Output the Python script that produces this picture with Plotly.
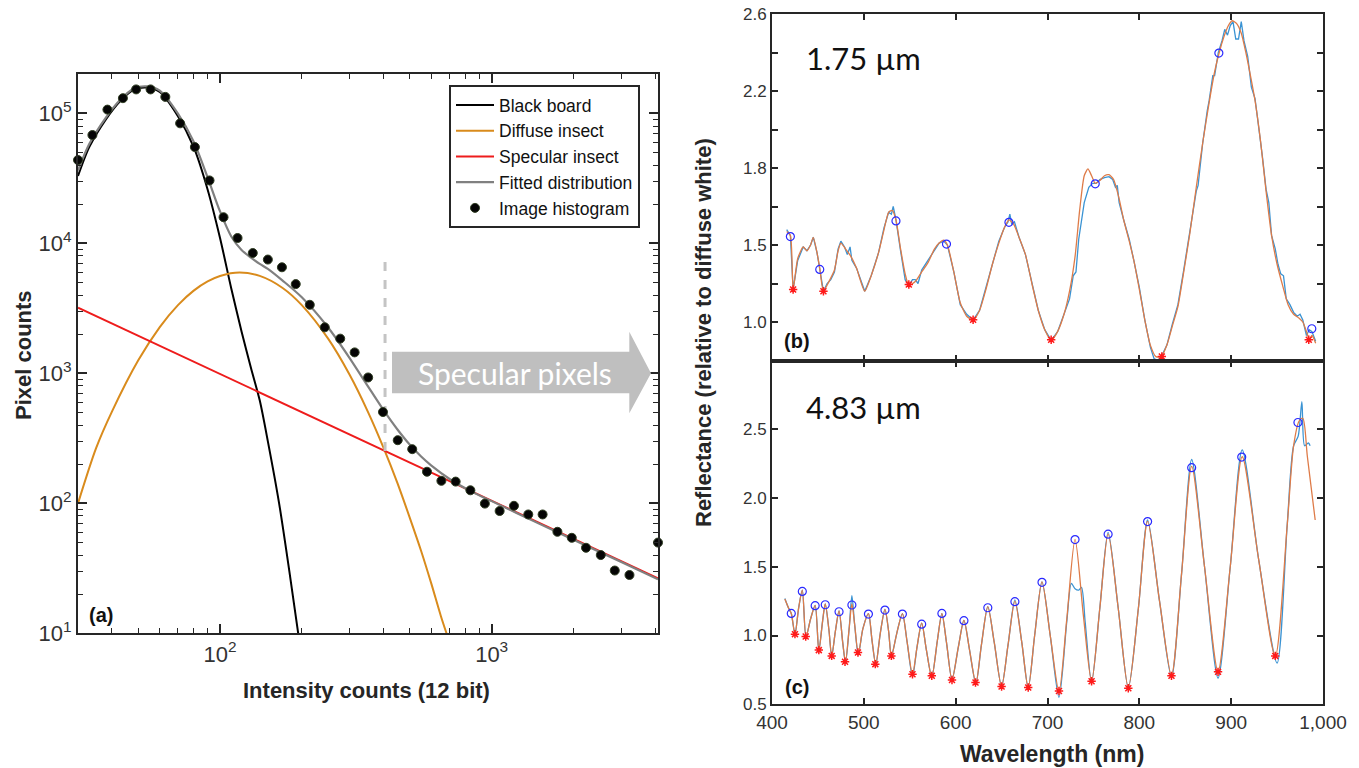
import plotly.graph_objects as go
import math

W, H = 1359, 768
def PX(x): return x / W
def PY(y): return 1 - y / H

# ---------------- Panel (a) data ----------------
hist_x = [30.0, 33.9, 38.5, 43.9, 49.1, 55.5, 62.9, 71.3, 80.8, 91.5, 103, 116, 132, 150, 169, 190, 214,
          243, 277, 313, 351, 398, 451, 510, 578, 653, 737, 835, 944, 1070, 1208, 1364, 1540, 1746,
          1972, 2225, 2522, 2839, 3216, 4096]
hist_y = [43800, 68200, 107000, 131000, 153000, 153000, 134000, 83900, 55100, 30500, 15900, 11000, 8430,
          7510, 6550, 4860, 3370, 2260, 1850, 1450, 930, 504, 306, 261, 175, 149, 147, 126, 99.5, 87.3,
          95.7, 82.1, 82.1, 60.4, 54.3, 45.5, 40.0, 30.4, 28.1, 49.9]

black_x = [30, 33, 38, 43, 48, 54, 60, 70, 80, 90, 100, 110, 120, 130, 140, 150, 165, 180, 194]
black_y = [33000, 55000, 90000, 125000, 152000, 158000, 146000, 95000, 55000, 26000, 11000, 4500, 2100,
           1100, 620, 300, 100, 30, 10]

diffuse_x = [30, 35, 40, 50, 60, 70, 80, 90, 100, 118, 140, 170, 200, 250, 300, 350, 400, 450, 500, 550,
             600, 650, 682]
diffuse_y = [100, 267, 508, 1260, 2270, 3350, 4330, 5100, 5620, 5970, 5620, 4540, 3350, 1850, 975, 508,
             267, 143, 77, 43, 24, 13.6, 10]

specular_x = [30, 4096]
specular_y = [3200, 26.5]

fitted_x = [30, 33, 38, 43, 48, 54, 60, 70, 80, 90, 100, 110, 120, 130, 140, 150, 170, 200, 250, 300, 350,
            400, 450, 500, 550, 600, 700, 850, 1000, 1500, 2000, 3000, 4096]
fitted_y = [36300, 58100, 92900, 127900, 155100, 161500, 149900, 99750, 60560, 32190, 17610, 11300, 8890,
            7765, 6950, 6365, 5170, 3850, 2254, 1312, 798, 521, 370, 282, 229, 195, 154, 122, 104, 69.5,
            52.5, 35.3, 26]

threshold_x = [405, 405]
threshold_y = [7200, 240]

a_xtick_vals = [100, 1000]
a_xtick_text = ["10<sup>2</sup>", "10<sup>3</sup>"]
a_xminor_vals = [40, 50, 60, 70, 80, 90, 200, 300, 400, 500, 600, 700, 800, 900, 2000, 3000, 4000]
a_ytick_vals = [10, 100, 1000, 10000, 100000]
a_ytick_text = ["10<sup>1</sup>", "10<sup>2</sup>", "10<sup>3</sup>", "10<sup>4</sup>", "10<sup>5</sup>"]
a_yminor_vals = [20, 30, 40, 50, 60, 70, 80, 90, 200, 300, 400, 500, 600, 700, 800, 900,
                 2000, 3000, 4000, 5000, 6000, 7000, 8000, 9000, 20000, 30000, 40000, 50000, 60000,
                 70000, 80000, 90000]

# ---------------- Panel (b) data (1.75 um) ----------------
b_fit_wl = [416, 420, 423, 428, 434, 438, 442, 445, 449, 452, 456, 462, 468, 472, 475, 480, 486, 492, 501,
            508, 516, 522, 527, 531, 535, 540, 545, 549, 556, 563, 570, 577, 582, 587, 591, 598, 605, 612,
            619, 626, 633, 640, 647, 653, 658, 663, 669, 676, 683, 690, 697, 704, 711, 718, 724, 730, 735,
            740, 744, 748, 752, 757, 762, 767, 772, 778, 783, 789, 794, 800, 806, 812, 818, 824, 830, 836,
            842, 848, 855, 862, 869, 876, 882, 887, 892, 897, 901, 906, 911, 916, 921, 926, 932, 938, 944,
            950, 956, 962, 968, 974, 978, 982, 985, 988, 992]
b_fit_val = [1.47, 1.45, 1.17, 1.33, 1.39, 1.37, 1.40, 1.44, 1.36, 1.28, 1.16, 1.21, 1.27, 1.37, 1.41, 1.38,
             1.34, 1.28, 1.16, 1.24, 1.36, 1.48, 1.57, 1.58, 1.53, 1.38, 1.25, 1.19, 1.21, 1.26, 1.31, 1.38,
             1.41, 1.425, 1.40, 1.26, 1.10, 1.03, 1.01, 1.06, 1.17, 1.30, 1.41, 1.49, 1.53, 1.51, 1.44,
             1.35, 1.20, 1.06, 0.96, 0.905, 0.95, 1.04, 1.16, 1.34, 1.58, 1.76, 1.795, 1.76, 1.72, 1.735,
             1.76, 1.765, 1.74, 1.64, 1.53, 1.42, 1.32, 1.17, 1.01, 0.88, 0.82, 0.82, 0.88, 0.98, 1.08,
             1.25, 1.46, 1.70, 1.93, 2.14, 2.30, 2.40, 2.48, 2.54, 2.565, 2.55, 2.50, 2.40, 2.28, 2.15,
             1.94, 1.68, 1.45, 1.30, 1.19, 1.09, 1.04, 1.02, 1.00, 0.95, 0.91, 0.93, 0.89]

b_meas_wl = [416, 420, 423, 428, 434, 438, 442, 445, 449, 452, 456, 460, 464, 468, 472, 475, 479, 482, 485,
             487, 492, 501, 508, 516, 522, 527, 530, 532, 535, 540, 545, 549, 553, 556, 559, 563, 570, 577,
             582, 587, 591, 598, 605, 612, 619, 626, 633, 640, 647, 653, 657, 659, 661, 664, 669, 676, 683,
             690, 697, 704, 711, 718, 724, 728, 731, 734, 740, 745, 749, 753, 757, 762, 767, 771, 774, 776,
             778, 783, 789, 794, 800, 806, 812, 816, 820, 824, 830, 836, 842, 848, 855, 862, 864, 869, 874,
             876, 880, 882, 886, 890, 893, 896, 899, 902, 905, 908, 911, 914, 918, 922, 926, 930, 934, 938,
             941, 944, 948, 951, 954, 957, 960, 964, 968, 972, 975, 978, 982, 985, 988, 992]
b_meas_val = [1.48, 1.45, 1.17, 1.32, 1.39, 1.37, 1.40, 1.44, 1.36, 1.28, 1.16, 1.20, 1.22, 1.26, 1.38,
              1.42, 1.39, 1.35, 1.39, 1.32, 1.28, 1.16, 1.24, 1.36, 1.49, 1.57, 1.56, 1.60, 1.53, 1.37,
              1.22, 1.19, 1.22, 1.22, 1.20, 1.27, 1.32, 1.37, 1.41, 1.42, 1.40, 1.26, 1.09, 1.04, 1.01,
              1.06, 1.18, 1.30, 1.42, 1.49, 1.52, 1.56, 1.51, 1.52, 1.44, 1.35, 1.20, 1.06, 0.96, 0.905,
              0.95, 1.04, 1.12, 1.24, 1.26, 1.43, 1.62, 1.70, 1.72, 1.72, 1.74, 1.75, 1.755, 1.74, 1.70,
              1.71, 1.62, 1.53, 1.43, 1.32, 1.18, 1.01, 0.87, 0.81, 0.80, 0.82, 0.88, 0.99, 1.09, 1.26,
              1.46, 1.68, 1.71, 1.93, 2.10, 2.15, 2.28, 2.28, 2.40, 2.46, 2.52, 2.49, 2.54, 2.56, 2.47,
              2.47, 2.56, 2.46, 2.38, 2.22, 2.16, 2.02, 1.86, 1.69, 1.62, 1.45, 1.38, 1.30, 1.25, 1.24,
              1.12, 1.09, 1.05, 1.03, 1.04, 1.01, 0.93, 0.96, 0.95, 0.90]

b_peak_wl = [420, 452, 535, 590, 658, 752, 886.6, 987.8]
b_peak_val = [1.444, 1.273, 1.525, 1.405, 1.518, 1.718, 2.397, 0.965]
b_trough_wl = [423, 456, 549, 619, 704, 824.5, 984.5]
b_trough_val = [1.169, 1.16, 1.195, 1.012, 0.908, 0.821, 0.908]

b_ytick_vals = [1.0, 1.2, 1.4, 1.6, 1.8, 2.0, 2.2, 2.4, 2.6]
b_ytick_text = ["1.0", "", "1.5", "", "1.8", "", "2.2", "", "2.6"]

# ---------------- Panel (c) data (4.83 um) ----------------
c_fit_wl = [414, 418, 421, 425, 429, 433, 437, 442, 447, 451, 455, 458, 462, 465, 469, 473, 477, 480, 484,
            487, 490, 494, 499, 505, 509, 513, 518, 523, 527, 530, 536, 542, 547, 553, 558, 563, 568, 574,
            580, 585, 590, 596, 603, 609, 615, 622, 628, 635, 642, 650, 657, 664.5, 672, 679, 686, 694, 703,
            712.5, 721, 730, 739, 748, 757, 766, 777, 788, 799, 809, 822, 835, 846, 857, 871, 885.7, 899,
            912, 930, 948, 961, 968, 974, 978, 983, 991.5]
c_fit_val = [1.265, 1.20, 1.16, 1.01, 1.20, 1.33, 0.99, 1.12, 1.22, 0.89, 1.10, 1.23, 1.04, 0.85, 1.03, 1.18,
             0.95, 0.81, 1.05, 1.23, 1.08, 0.87, 1.05, 1.16, 0.96, 0.79, 1.02, 1.19, 1.03, 0.85, 1.02, 1.16,
             0.96, 0.72, 0.92, 1.09, 0.90, 0.70, 0.96, 1.16, 0.95, 0.68, 0.92, 1.11, 0.90, 0.655, 0.93, 1.21,
             0.95, 0.63, 0.93, 1.25, 0.95, 0.62, 1.00, 1.39, 1.00, 0.595, 1.12, 1.70, 1.15, 0.67, 1.20, 1.74,
             1.20, 0.62, 1.20, 1.83, 1.25, 0.71, 1.45, 2.23, 1.50, 0.74, 1.50, 2.30, 1.55, 0.85, 1.80, 2.38,
             2.56, 2.58, 2.30, 1.84]

c_meas_wl = [414, 418, 421, 425, 429, 433, 437, 442, 447, 451, 455, 458, 462, 465, 469, 473, 477, 480, 484,
             487, 490, 494, 499, 505, 509, 513, 518, 523, 527, 530, 536, 542, 547, 553, 558, 563, 568, 574,
             580, 585, 590, 596, 603, 609, 615, 622, 628, 635, 642, 650, 657, 664.5, 672, 679, 686, 694, 703,
             712.5, 721, 726, 730, 734, 737, 741, 748, 757, 766, 777, 788, 799, 809, 822, 835, 846, 857, 871,
             885.7, 899, 912, 930, 950, 961, 968, 973, 977, 980, 984, 986]
c_meas_val = [1.27, 1.20, 1.16, 1.01, 1.20, 1.33, 0.99, 1.12, 1.22, 0.89, 1.10, 1.23, 1.04, 0.85, 1.03, 1.18,
              0.95, 0.80, 1.05, 1.29, 1.08, 0.86, 1.05, 1.16, 0.96, 0.79, 1.02, 1.19, 1.03, 0.85, 1.02, 1.16,
              0.96, 0.70, 0.92, 1.09, 0.90, 0.70, 0.96, 1.16, 0.95, 0.68, 0.92, 1.11, 0.90, 0.65, 0.93, 1.21,
              0.95, 0.63, 0.93, 1.26, 0.95, 0.62, 1.00, 1.39, 1.00, 0.55, 1.10, 1.38, 1.34, 1.33, 1.35, 1.10,
              0.66, 1.20, 1.75, 1.20, 0.62, 1.20, 1.84, 1.25, 0.70, 1.45, 2.28, 1.50, 0.69, 1.50, 2.35, 1.55,
              0.80, 1.80, 2.38, 2.45, 2.70, 2.38, 2.40, 2.38]

c_peak_wl = [421, 433, 447, 458, 473, 487, 505, 523, 542, 563, 585, 609, 635, 664.5, 694, 730, 766, 809,
             857, 911.5, 972.7]
c_peak_val = [1.161, 1.321, 1.217, 1.224, 1.173, 1.222, 1.156, 1.185, 1.156, 1.083, 1.161, 1.108, 1.202,
              1.246, 1.387, 1.698, 1.737, 1.829, 2.221, 2.298, 2.549]
c_trough_wl = [425, 436.7, 451, 465, 479.5, 493.6, 512.5, 530, 553, 574, 596, 621.6, 650, 679, 712.5, 748,
               788, 835, 885.7, 948]
c_trough_val = [1.010, 0.993, 0.894, 0.852, 0.809, 0.877, 0.792, 0.852, 0.719, 0.707, 0.677, 0.658, 0.629,
                0.622, 0.597, 0.668, 0.617, 0.707, 0.736, 0.852]

c_ytick_vals = [0.5, 1.0, 1.5, 2.0, 2.5]
c_ytick_text = ["0.5", "1.0", "1.5", "2.0", "2.5"]

# ---------------- styles ----------------
AX = '#262626'
FONT = 'Liberation Sans, Arial, sans-serif'
BLUE = '#3a93d3'
ORANGE = '#de7b48'

fig = go.Figure()

# Panel (a)
fig.add_trace(go.Scatter(x=black_x, y=black_y, mode='lines', name='Black board',
                         line=dict(color='#000000', width=2, shape='spline', smoothing=0.8),
                         xaxis='x', yaxis='y'))
fig.add_trace(go.Scatter(x=diffuse_x, y=diffuse_y, mode='lines', name='Diffuse insect',
                         line=dict(color='#d98b1c', width=2, shape='spline', smoothing=0.8),
                         xaxis='x', yaxis='y'))
fig.add_trace(go.Scatter(x=specular_x, y=specular_y, mode='lines', name='Specular insect',
                         line=dict(color='#ee1c1c', width=2),
                         xaxis='x', yaxis='y'))
fig.add_trace(go.Scatter(x=threshold_x, y=threshold_y, mode='lines', showlegend=False,
                         line=dict(color='#c4c4c4', width=3, dash='dash'),
                         xaxis='x', yaxis='y'))
fig.add_trace(go.Scatter(x=fitted_x, y=fitted_y, mode='lines', name='Fitted distribution',
                         line=dict(color='#808080', width=2.2, shape='spline', smoothing=0.8),
                         xaxis='x', yaxis='y'))
fig.add_trace(go.Scatter(x=hist_x, y=hist_y, mode='markers', name='Image histogram',
                         marker=dict(color='#050505', size=9, line=dict(color='#2f3d22', width=1)),
                         cliponaxis=False, xaxis='x', yaxis='y'))

# Panel (b)
fig.add_trace(go.Scatter(x=b_meas_wl, y=b_meas_val, mode='lines', showlegend=False,
                         line=dict(color=BLUE, width=1.3), xaxis='x2', yaxis='y2'))
fig.add_trace(go.Scatter(x=b_fit_wl, y=b_fit_val, mode='lines', showlegend=False,
                         line=dict(color=ORANGE, width=1.3, shape='spline', smoothing=0.6),
                         xaxis='x2', yaxis='y2'))
fig.add_trace(go.Scatter(x=b_peak_wl, y=b_peak_val, mode='markers', showlegend=False,
                         marker=dict(symbol='circle-open', size=8, color='#2a2aff', line=dict(width=1.2)),
                         xaxis='x2', yaxis='y2'))
fig.add_trace(go.Scatter(x=b_trough_wl, y=b_trough_val, mode='markers', showlegend=False,
                         marker=dict(symbol='asterisk-open', size=7, color='#ff1a1a', line=dict(width=1.5, color='#ff1a1a')),
                         xaxis='x2', yaxis='y2'))

# Panel (c)
fig.add_trace(go.Scatter(x=c_meas_wl, y=c_meas_val, mode='lines', showlegend=False,
                         line=dict(color=BLUE, width=1.3, shape='spline', smoothing=0.8),
                         xaxis='x3', yaxis='y3'))
fig.add_trace(go.Scatter(x=c_fit_wl, y=c_fit_val, mode='lines', showlegend=False,
                         line=dict(color=ORANGE, width=1.3, shape='spline', smoothing=0.8),
                         xaxis='x3', yaxis='y3'))
fig.add_trace(go.Scatter(x=c_peak_wl, y=c_peak_val, mode='markers', showlegend=False,
                         marker=dict(symbol='circle-open', size=8, color='#2a2aff', line=dict(width=1.2)),
                         xaxis='x3', yaxis='y3'))
fig.add_trace(go.Scatter(x=c_trough_wl, y=c_trough_val, mode='markers', showlegend=False,
                         marker=dict(symbol='asterisk-open', size=7, color='#ff1a1a', line=dict(width=1.5, color='#ff1a1a')),
                         xaxis='x3', yaxis='y3'))

common = dict(showline=True, linewidth=2, linecolor=AX, mirror='ticks', ticks='inside',
              tickcolor=AX, tickwidth=1.5, showgrid=False, zeroline=False, automargin=False)

fig.update_layout(
    width=W, height=H, autosize=False,
    margin=dict(l=0, r=0, t=0, b=0, pad=0),
    paper_bgcolor='white', plot_bgcolor='white',
    font=dict(family=FONT, color=AX),
    xaxis=dict(domain=[PX(78), PX(658)], anchor='y', type='log',
               range=[math.log10(30), math.log10(4096)],
               tickmode='array', tickvals=a_xtick_vals, ticktext=a_xtick_text, ticklen=9,
               minor=dict(ticks='inside', ticklen=5, tickcolor=AX, tickwidth=1.2,
                          tickmode='array', tickvals=a_xminor_vals, showgrid=False),
               tickfont=dict(size=22, color='#333333'), **common),
    yaxis=dict(domain=[PY(633.3), PY(74.3)], anchor='x', type='log',
               range=[1, math.log10(200000)],
               tickmode='array', tickvals=a_ytick_vals, ticktext=a_ytick_text, ticklen=9,
               minor=dict(ticks='inside', ticklen=5, tickcolor=AX, tickwidth=1.2,
                          tickmode='array', tickvals=a_yminor_vals, showgrid=False),
               tickfont=dict(size=22, color='#333333'), **common),
    xaxis2=dict(domain=[PX(772), PX(1323)], anchor='y2', range=[400, 1000], dtick=100,
                ticklen=6, showticklabels=False, **common),
    yaxis2=dict(domain=[PY(360.5), PY(14)], anchor='x2', range=[0.8, 2.6],
                tickmode='array', tickvals=b_ytick_vals, ticktext=b_ytick_text, ticklen=6,
                tickfont=dict(size=17, color='#333333'), **common),
    xaxis3=dict(domain=[PX(772), PX(1323)], anchor='y3', range=[400, 1000], dtick=100,
                tickformat=',', ticklen=6, tickfont=dict(size=19, color='#333333'), **common),
    yaxis3=dict(domain=[PY(704.3), PY(360.5)], anchor='x3', range=[0.5, 3.0],
                tickmode='array', tickvals=c_ytick_vals, ticktext=c_ytick_text, ticklen=6,
                tickfont=dict(size=17, color='#333333'), **common),
    legend=dict(x=PX(449), y=PY(85), xanchor='left', yanchor='top', bgcolor='white',
                bordercolor=AX, borderwidth=2, font=dict(size=17.5, color='#111111', family=FONT),
                tracegroupgap=0, itemwidth=38),
    showlegend=True,
)

# Arrow "Specular pixels"
arrow = (f"M {PX(392)} {PY(351.7)} L {PX(629.3)} {PY(351.7)} L {PX(629.3)} {PY(331.7)} "
         f"L {PX(651)} {PY(373.3)} L {PX(629.3)} {PY(413.3)} L {PX(629.3)} {PY(393.3)} "
         f"L {PX(392)} {PY(393.3)} Z")
fig.add_shape(type='path', path=arrow, xref='paper', yref='paper', fillcolor='#bfbfbf',
              line=dict(width=0), layer='above')

annots = [
    dict(x=PX(515), y=PY(373), text='Specular pixels', font=dict(size=30, color='white', family='Lato, Open Sans, sans-serif')),
    dict(x=PX(101), y=PY(615), text='<b>(a)</b>', font=dict(size=20, color='#111111')),
    dict(x=PX(797), y=PY(341), text='<b>(b)</b>', font=dict(size=20, color='#111111')),
    dict(x=PX(797), y=PY(687), text='<b>(c)</b>', font=dict(size=20, color='#111111')),
    dict(x=PX(863), y=PY(58), text='1.75 µm', font=dict(size=31, color='#111111', family='Lato, Open Sans, sans-serif')),
    dict(x=PX(863), y=PY(407), text='4.83 µm', font=dict(size=31, color='#111111', family='Lato, Open Sans, sans-serif')),
    dict(x=PX(366), y=PY(690), text='<b>Intensity counts (12 bit)</b>', font=dict(size=22, color=AX)),
    dict(x=PX(24), y=PY(355), text='<b>Pixel counts</b>', textangle=-90, font=dict(size=22, color=AX)),
    dict(x=PX(1052), y=PY(754), text='<b>Wavelength (nm)</b>', font=dict(size=23, color=AX)),
    dict(x=PX(703), y=PY(333), text='<b>Reflectance (relative to diffuse white)</b>', textangle=-90,
         font=dict(size=22, color=AX)),
]
for a in annots:
    a.update(xref='paper', yref='paper', showarrow=False, xanchor='center', yanchor='middle')
    fig.add_annotation(**a)

fig.write_html("out.html", config={'displayModeBar': False},
               post_script="document.body.style.margin='0';")
